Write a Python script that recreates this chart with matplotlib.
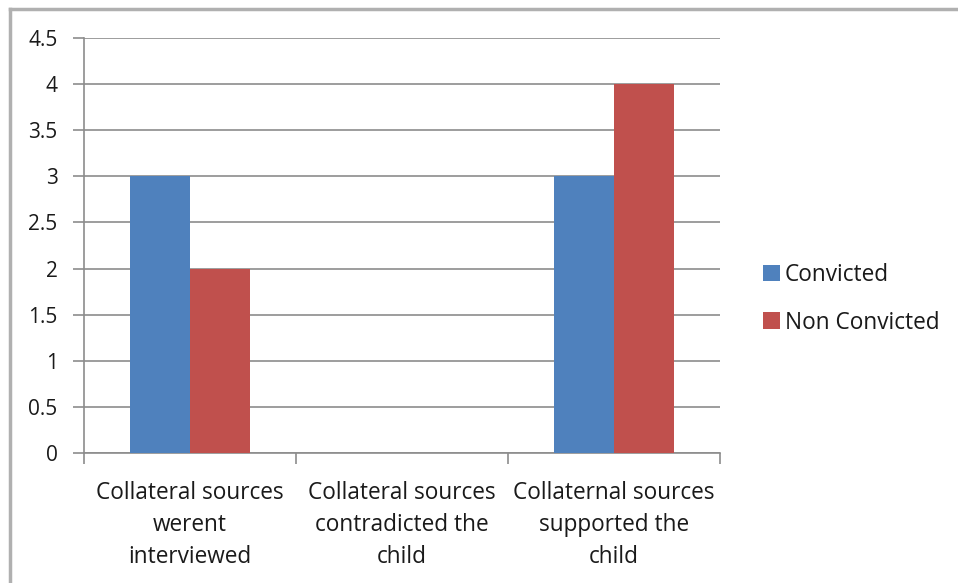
import numpy as np
import matplotlib.pyplot as plt
from matplotlib.lines import Line2D

categories = ['Collateral sources\nwerent\ninterviewed',
              'Collateral sources\ncontradicted the\nchild',
              'Collaternal sources\nsupported the\nchild']
convicted = [3, 0, 3]
non_convicted = [2, 0, 4]
y_ticks = [0, 0.5, 1, 1.5, 2, 2.5, 3, 3.5, 4, 4.5]
y_tick_labels = ['0', '0.5', '1', '1.5', '2', '2.5', '3', '3.5', '4', '4.5']

plt.rcParams['font.family'] = ['Open Sans', 'DejaVu Sans']
text_color = '#1a1a1a'
grid_color = '#8c8c8c'

fig = plt.figure(figsize=(9.58, 5.83), dpi=100)
ax = fig.add_axes([84 / 958, 1 - 453 / 583, 636 / 958, 415 / 583])

x = np.arange(len(categories))
width = 0.283
ax.bar(x - width / 2, convicted, width, color='#4F81BD', label='Convicted', zorder=3)
ax.bar(x + width / 2, non_convicted, width, color='#C0504D', label='Non Convicted', zorder=3)

ax.set_xlim(-0.5, len(categories) - 0.5)
ax.set_ylim(0, 4.5)
ax.set_yticks(y_ticks)
ax.set_yticklabels(y_tick_labels, fontsize=15, color=text_color)
ax.yaxis.grid(True, color=grid_color, linewidth=1.2, zorder=0)

# category labels sit between boundary ticks
ax.set_xticks(x)
ax.set_xticklabels(categories, fontsize=16.3, color=text_color, linespacing=1.44)
ax.tick_params(axis='x', length=0, pad=20)
ax.set_xticks(np.arange(-0.5, len(categories)), minor=True)
ax.tick_params(axis='x', which='minor', length=8, width=1.2, color=grid_color)
ax.tick_params(axis='y', length=8, width=1.2, color=grid_color, pad=11)

for side in ['top', 'right']:
    ax.spines[side].set_visible(False)
for side in ['left', 'bottom']:
    ax.spines[side].set_color(grid_color)
    ax.spines[side].set_linewidth(1.2)

ax.legend(loc='center left', bbox_to_anchor=(1.05, 0.372), frameon=False,
          fontsize=16.3, handlelength=0.75, handleheight=0.75, handletextpad=0.2,
          labelspacing=1.05, labelcolor=text_color, borderpad=0)

# outer chart border (left and top edges)
fig.add_artist(Line2D([10 / 958, 10 / 958], [0, 1 - 9 / 583],
                      transform=fig.transFigure, color='#b0b0b0', linewidth=2.5))
fig.add_artist(Line2D([10 / 958, 1], [1 - 9 / 583, 1 - 9 / 583],
                      transform=fig.transFigure, color='#b0b0b0', linewidth=2.5))

fig.savefig('out.png', dpi=100)
